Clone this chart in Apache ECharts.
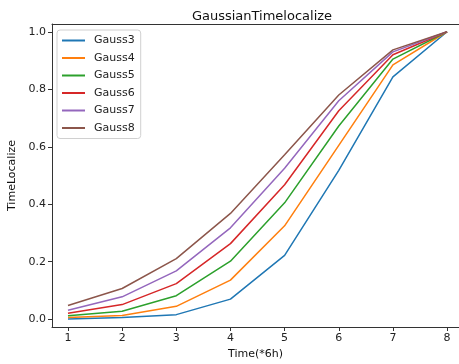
<!DOCTYPE html>
<html>
<head>
<meta charset="utf-8">
<script src="https://cdn.jsdelivr.net/npm/echarts@6/dist/echarts.min.js"></script>
<style>
  html, body { margin: 0; padding: 0; background: #fff; }
  #chart { width: 459px; height: 364px; }
</style>
</head>
<body>
<div id="chart"></div>
<script>
// time steps (*6h)
var steps = [1, 2, 3, 4, 5, 6, 7, 8];
var xTicks = [1, 2, 3, 4, 5, 6, 7, 8];
var yTicks = [0, 0.2, 0.4, 0.6, 0.8, 1.0];

var names = ['Gauss3', 'Gauss4', 'Gauss5', 'Gauss6', 'Gauss7', 'Gauss8'];
var gauss3 = [0.001, 0.006, 0.016, 0.070, 0.222, 0.518, 0.843, 1.0];
var gauss4 = [0.006, 0.013, 0.045, 0.136, 0.325, 0.605, 0.885, 1.0];
var gauss5 = [0.012, 0.028, 0.082, 0.202, 0.405, 0.672, 0.905, 1.0];
var gauss6 = [0.021, 0.051, 0.124, 0.263, 0.468, 0.725, 0.920, 1.0];
var gauss7 = [0.031, 0.078, 0.168, 0.318, 0.525, 0.760, 0.930, 1.0];
var gauss8 = [0.048, 0.107, 0.211, 0.368, 0.572, 0.780, 0.937, 1.0];
var values = [gauss3, gauss4, gauss5, gauss6, gauss7, gauss8];

var colors = ['#1f77b4', '#ff7f0e', '#2ca02c', '#d62728', '#9467bd', '#8c564b'];
var font = 'DejaVu Sans';
var xMin = 0.705, xMax = 8.22;

var series = names.map(function (name, i) {
    return {
        name: name,
        type: 'line',
        symbol: 'none',
        lineStyle: { width: 1.5, color: colors[i] },
        itemStyle: { color: colors[i] },
        data: steps.map(function (s, j) { return [s, values[i][j]]; })
    };
});

var chart = echarts.init(document.getElementById('chart'));
chart.setOption({
    animation: false,
    color: colors,
    title: {
        text: 'GaussianTimelocalize',
        left: 257, top: 5, textAlign: 'center',
        textStyle: { fontFamily: font, fontSize: 13, fontWeight: 'normal', color: '#111' }
    },
    legend: {
        orient: 'vertical',
        left: 57, top: 30,
        padding: [5, 6, 5, 5],
        itemGap: 6.5,
        itemWidth: 23, itemHeight: 2,
        icon: 'rect',
        borderColor: '#d0d0d0', borderWidth: 1, borderRadius: 3,
        backgroundColor: 'rgba(255,255,255,0.8)',
        textStyle: { fontFamily: font, fontSize: 11, color: '#222', padding: [0, 0, 0, 4] },
        data: names
    },
    grid: {
        left: 52, right: 0, top: 24, bottom: 37,
        outerBoundsMode: 'none'
    },
    xAxis: [{
        type: 'value',
        min: xMin, max: xMax,
        name: 'Time(*6h)', nameLocation: 'middle', nameGap: 22,
        nameTextStyle: { fontFamily: font, fontSize: 11, color: '#111' },
        axisLine: { show: true, onZero: false, lineStyle: { color: '#333' } },
        axisTick: { show: true, length: 4, lineStyle: { color: '#333' }, customValues: xTicks },
        axisLabel: { fontFamily: font, fontSize: 11, color: '#222', margin: 6, customValues: xTicks,
            formatter: function (v) { return String(v); } },
        splitLine: { show: false }
    }, {
        // top spine
        type: 'value', position: 'top',
        min: xMin, max: xMax,
        axisLine: { show: true, onZero: false, lineStyle: { color: '#333' } },
        axisTick: { show: false },
        axisLabel: { show: false },
        splitLine: { show: false }
    }],
    yAxis: {
        type: 'value',
        min: -0.027, max: 1.027,
        name: 'TimeLocalize', nameLocation: 'middle', nameGap: 33,
        nameTextStyle: { fontFamily: font, fontSize: 11, color: '#111' },
        axisLine: { show: true, onZero: false, lineStyle: { color: '#333' } },
        axisTick: { show: true, length: 4, lineStyle: { color: '#333' }, customValues: yTicks },
        axisLabel: { fontFamily: font, fontSize: 11, color: '#222', margin: 6, customValues: yTicks,
            formatter: function (v) { return v.toFixed(1); } },
        splitLine: { show: false }
    },
    series: series
});
</script>
</body>
</html>
